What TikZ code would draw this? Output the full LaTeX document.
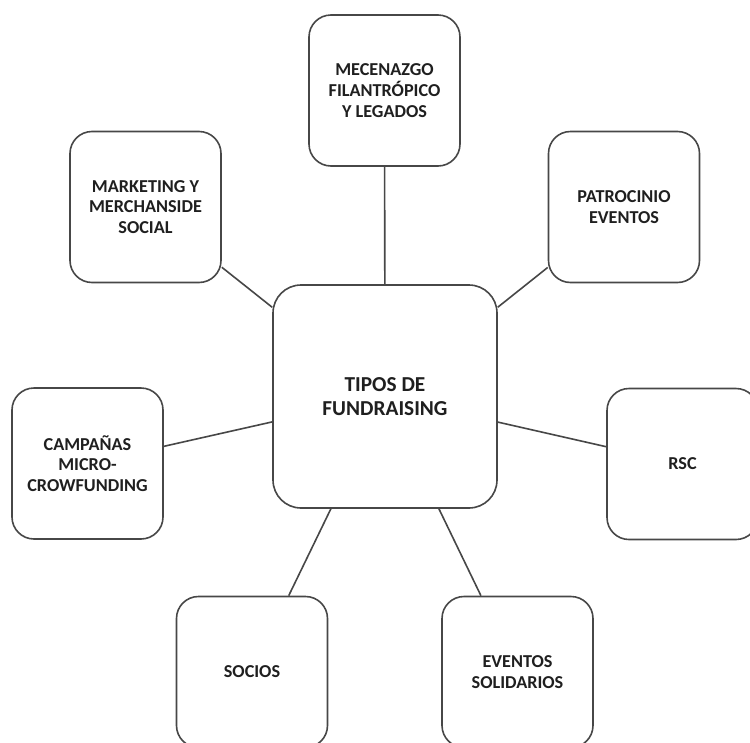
\documentclass[tikz,border=0pt]{standalone}
\usepackage{fontspec}
\setmainfont{Carlito}
\begin{document}
\begin{tikzpicture}[x=1pt,y=-1pt,
  every node/.style={text=black!88},
  boxbase/.style={draw=black!72, line width=1.6pt, fill=white, rectangle,
    align=center, inner sep=0pt, font=\bfseries\fontsize{18.2}{20.6}\selectfont},
  leaf/.style={boxbase, minimum width=151pt, minimum height=151pt, rounded corners=22pt},
  hub/.style={boxbase, minimum width=224pt, minimum height=223pt, rounded corners=28pt,
    font=\bfseries\fontsize{21.3}{24}\selectfont},
  link/.style={draw=black!72, line width=1.6pt}]
\clip (0,0) rectangle (750,742);
\fill[white] (0,0) rectangle (750,742);

% central topic
\node[hub] (hub) at (385,396.5) {TIPOS DE\\FUNDRAISING};

% surrounding categories
\node[leaf] (mec) at (384.5,90.5) {MECENAZGO\\FILANTRÓPICO\\Y LEGADOS};
\node[leaf] (mkt) at (145.5,207) {MARKETING Y\\MERCHANSIDE\\SOCIAL};
\node[leaf] (pat) at (624,207) {PATROCINIO\\EVENTOS};
\node[leaf] (cam) at (87.5,463.5) {CAMPAÑAS\\MICRO-\\CROWFUNDING};
\node[leaf] (rsc) at (682.5,464) {RSC};
\node[leaf] (soc) at (252,672) {SOCIOS};
\node[leaf] (eve) at (517.5,672) {EVENTOS\\SOLIDARIOS};

% connectors
\foreach \n in {mec,mkt,pat,cam,rsc,soc,eve}
  \draw[link] (hub) -- (\n);
\end{tikzpicture}
\end{document}
